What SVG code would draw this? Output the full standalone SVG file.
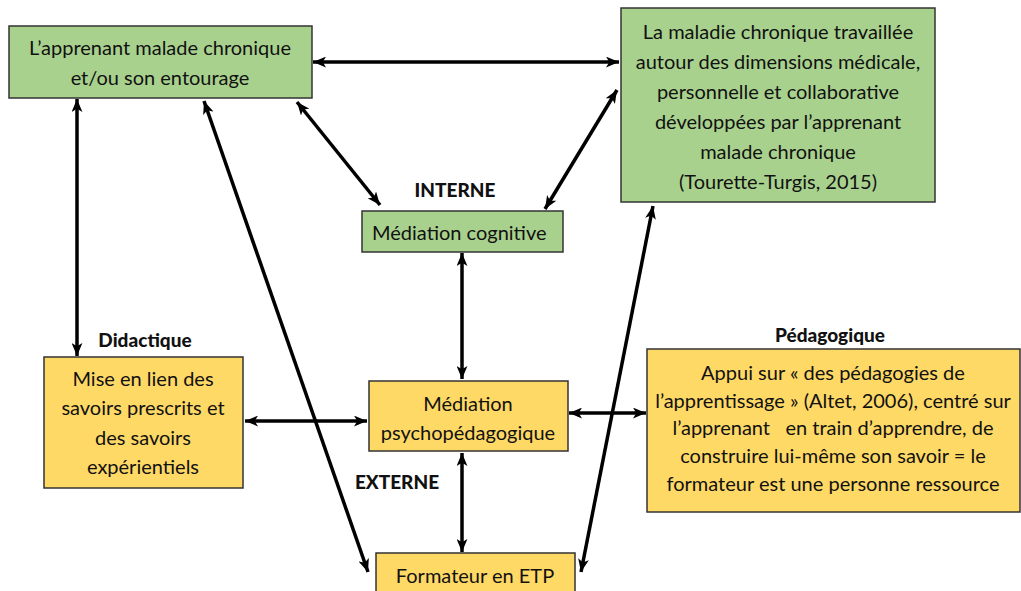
<svg xmlns="http://www.w3.org/2000/svg" width="1021" height="591" viewBox="0 0 1021 591">
<defs>
<marker id="ah" viewBox="0 0 12 10" refX="12" refY="5" markerWidth="13" markerHeight="11" markerUnits="userSpaceOnUse" orient="auto-start-reverse">
<path d="M0,0 L12,5 L0,10 L3,5 Z" fill="#000"/>
</marker>
<style>
.g{fill:#A9D18E;stroke:#333;stroke-width:1.5}
.y{fill:#FFD966;stroke:#333;stroke-width:1.5}
.t{font-family:Lato,"Liberation Sans",sans-serif;font-size:20px;fill:#111;text-anchor:middle}
.b{font-family:Lato,"Liberation Sans",sans-serif;font-size:19px;font-weight:900;fill:#111;text-anchor:middle}
.c line{stroke:#000;stroke-width:3.5;marker-start:url(#ah);marker-end:url(#ah)}
</style>
</defs>
<rect width="1021" height="591" fill="#fff"/>
<g class="c" id="connectors">
<line x1="313" y1="62" x2="619" y2="62"/>
<line x1="77" y1="99" x2="77" y2="356"/>
<line x1="204" y1="101" x2="368" y2="572"/>
<line x1="297" y1="102" x2="380" y2="205"/>
<line x1="617" y1="90" x2="545" y2="209"/>
<line x1="653" y1="206" x2="581" y2="572"/>
<line x1="462" y1="253" x2="462" y2="379"/>
<line x1="245" y1="421" x2="367" y2="421"/>
<line x1="569" y1="413" x2="646" y2="413"/>
<line x1="462" y1="453" x2="462" y2="552"/>
</g>
<g id="n1"><rect class="g" x="9" y="26" width="303" height="72"/>
<text class="t" x="160" y="55">L’apprenant malade chronique</text>
<text class="t" x="160" y="85">et/ou son entourage</text></g>
<g id="n2"><rect class="g" x="621" y="8" width="314" height="194"/>
<text class="t" x="778" y="39">La maladie chronique travaillée</text>
<text class="t" x="778" y="69">autour des dimensions médicale,</text>
<text class="t" x="778" y="99">personnelle et collaborative</text>
<text class="t" x="778" y="129">développées par l’apprenant</text>
<text class="t" x="778" y="159">malade chronique</text>
<text class="t" x="778" y="189">(Tourette-Turgis, 2015)</text></g>
<g id="n3"><rect class="g" x="362" y="211" width="201" height="41"/>
<text class="t" x="372" y="240" style="text-anchor:start">Médiation cognitive</text></g>
<g id="n4"><rect class="y" x="44" y="357" width="199" height="131"/>
<text class="t" x="143" y="386">Mise en lien des</text>
<text class="t" x="143" y="415">savoirs prescrits et</text>
<text class="t" x="143" y="445">des savoirs</text>
<text class="t" x="143" y="474">expérientiels</text></g>
<g id="n5"><rect class="y" x="369" y="381" width="199" height="70"/>
<text class="t" x="468" y="411">Médiation</text>
<text class="t" x="468" y="440">psychopédagogique</text></g>
<g id="n6"><rect class="y" x="376" y="553" width="199" height="45"/>
<text class="t" x="475" y="583">Formateur en ETP</text></g>
<g id="n7"><rect class="y" x="647" y="349" width="373" height="163"/>
<text class="t" x="833" y="380">Appui sur « des pédagogies de</text>
<text class="t" x="833" y="408">l’apprentissage » (Altet, 2006), centré sur</text>
<text class="t" x="833" y="435" xml:space="preserve">l’apprenant   en train d’apprendre, de</text>
<text class="t" x="833" y="463">construire lui-même son savoir = le</text>
<text class="t" x="833" y="491">formateur est une personne ressource</text></g>
<g id="labels">
<text class="b" x="455" y="197">INTERNE</text>
<text class="b" x="145" y="347">Didactique</text>
<text class="b" x="830" y="342">Pédagogique</text>
<text class="b" x="397" y="489">EXTERNE</text>
</g>
</svg>
